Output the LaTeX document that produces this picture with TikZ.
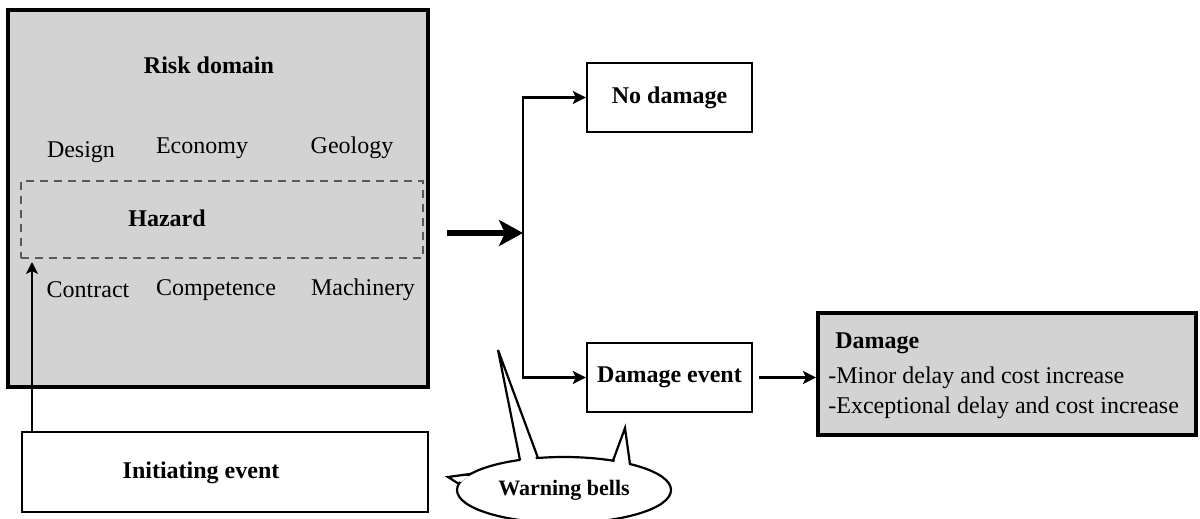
\documentclass[tikz,border=0pt,12pt]{standalone}
\usepackage{fontspec}
\setmainfont{Liberation Serif}
\usetikzlibrary{shapes.geometric, arrows.meta}
\definecolor{riskgray}{RGB}{211,211,211}

\begin{document}
\begin{tikzpicture}[x=0.5pt, y=-0.5pt,
	box/.style={draw, line width=1.2pt, inner sep=0pt, font=\bfseries},
	greybox/.style={draw, fill=riskgray, line width=1.8pt, inner sep=0pt},
	lbl/.style={inner sep=0pt},
	link/.style={line width=1.4pt, -{Stealth[length=6.5pt, width=6.5pt, inset=1.5pt]}},
	spike/.style={line width=1.1pt, line join=miter}]
	\useasboundingbox (0,0) rectangle (1200,519);
	% risk domain with the hazard band
	\node[greybox, minimum width=210pt, minimum height=188.5pt] (risk) at (218,198.5) {};
	\node[draw=black!65, dash pattern=on 4pt off 3pt, line width=0.6pt, inner sep=0pt,
		minimum width=201pt, minimum height=38.5pt] (hazard) at (222,219.5) {};
	\node[lbl, font=\bfseries] (riskttl) at (209,65) {Risk domain};
	\node[lbl] (design) at (81,152) {Design};
	\node[lbl] (economy) at (202,148) {Economy};
	\node[lbl] (geology) at (352,148) {Geology};
	\node[lbl, font=\bfseries] (hazttl) at (167,218) {Hazard};
	\node[lbl] (contract) at (88,290) {Contract};
	\node[lbl] (competence) at (216,290) {Competence};
	\node[lbl] (machinery) at (363,290) {Machinery};
	% initiating event
	\node[box, minimum width=203pt, minimum height=40pt] (init) at (225,472) {};
	\node[lbl, font=\bfseries] (initttl) at (201,473) {Initiating event};
	\coordinate (trigger) at (32,262);
	\draw[line width=1pt, -{Stealth[length=6pt, width=6pt, inset=1.5pt]}] (init.north -| trigger) -- (trigger);
	% outcomes
	\node[box, minimum width=82.5pt, minimum height=34.5pt] (nodmg) at (669.5,97.5) {No damage};
	\node[box, minimum width=82.5pt, minimum height=34.5pt] (dmgev) at (669.5,377.5) {Damage event};
	\node[greybox, line width=2pt, minimum width=189pt, minimum height=61pt] (dmg) at (1007,374) {};
	\node[lbl, anchor=west, font=\bfseries] (dmghead) at (835,343) {Damage};
	\node[lbl, anchor=west] (dmgminor) at (828,378) {-Minor delay and cost increase};
	\node[lbl, anchor=west] (dmgexcept) at (828,408) {-Exceptional delay and cost increase};
	\coordinate (feed) at (447,233);
	\coordinate (split) at (523,233);
	\draw[line width=2.6pt, -{Stealth[length=12pt, width=13pt, inset=3pt]}] (feed) -- (split);
	\draw[link] (split) |- (nodmg.west);
	\draw[link] (split) |- (dmgev.west);
	\draw[link, shorten <=3pt] (dmgev.east) -- (dmgev.east -| dmg.west);
	% warning bells callout
	\node[ellipse, draw, fill=white, line width=1.1pt, inner sep=0pt, minimum width=107pt,
		minimum height=33pt, font=\bfseries\fontsize{11}{13}\selectfont] (bells) at (564,490) {Warning bells};
	\fill[white] (521,463) -- (498,350) -- (537,462) -- cycle;
	\draw[spike] (520,460) -- (498,350) -- (538,458);
	\fill[white] (614,463) -- (625,428) -- (629,466) -- cycle;
	\draw[spike] (613,460.7) -- (625,428) -- (630,464);
	\fill[white] (469,476) -- (448,477) -- (461,482) -- cycle;
	\draw[spike] (470,474) -- (448,477) -- (459,484);
\end{tikzpicture}
\end{document}
